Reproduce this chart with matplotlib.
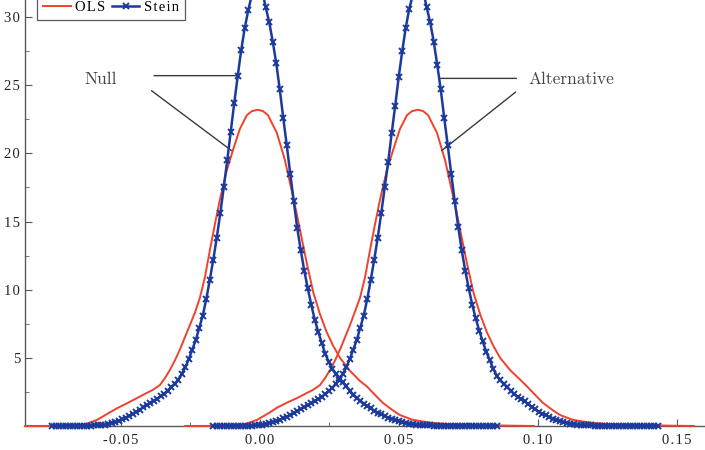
import numpy as np
import matplotlib
matplotlib.use("Agg")
import matplotlib.pyplot as plt
from matplotlib.ticker import MultipleLocator, FuncFormatter

plt.rcParams['font.family'] = ['Liberation Serif', 'DejaVu Serif']
plt.rcParams['axes.unicode_minus'] = False

# OLS density, null case
ols_null_x = [-0.0845, -0.0719, -0.0637, -0.0622, -0.0586, -0.0565, -0.0540, -0.0514, -0.0475, -0.0442,
              -0.0414, -0.0385, -0.0360, -0.0342, -0.0324, -0.0306, -0.0288, -0.0270, -0.0252, -0.0234,
              -0.0216, -0.0198, -0.0180, -0.0162, -0.0144, -0.0120, -0.0096, -0.0072, -0.0047, -0.0029,
              -0.0007, 0.0011, 0.0029, 0.0061, 0.0090, 0.0114, 0.0130, 0.0144, 0.0168, 0.0192,
              0.0216, 0.0240, 0.0263, 0.0288, 0.0324, 0.0360, 0.0385, 0.0406, 0.0442, 0.0478,
              0.0504, 0.0550, 0.0612, 0.0673, 0.0737, 0.0802, 0.0881, 0.0986]
ols_null_y = [0.0, 0.01, 0.08, 0.18, 0.45, 0.7, 1.0, 1.3, 1.7, 2.05,
              2.35, 2.65, 3.0, 3.5, 4.1, 4.8, 5.6, 6.5, 7.4, 8.3,
              9.4, 10.9, 12.9, 14.8, 16.6, 18.7, 20.3, 21.8, 22.8, 23.1,
              23.2, 23.1, 22.8, 21.5, 19.5, 17.3, 15.8, 14.4, 12.0, 9.8,
              8.2, 6.9, 5.9, 5.0, 4.05, 3.3, 2.9, 2.45, 1.7, 1.15,
              0.8, 0.45, 0.25, 0.15, 0.1, 0.07, 0.03, 0.0]

# OLS density, alternative case
ols_alt_x = [-0.0269, -0.0143, -0.0061, -0.0046, -0.0010, 0.0011, 0.0036, 0.0062, 0.0101, 0.0134,
             0.0162, 0.0191, 0.0216, 0.0234, 0.0252, 0.0270, 0.0288, 0.0306, 0.0324, 0.0342,
             0.0360, 0.0378, 0.0396, 0.0414, 0.0432, 0.0456, 0.0480, 0.0504, 0.0529, 0.0547,
             0.0569, 0.0587, 0.0605, 0.0637, 0.0666, 0.0690, 0.0706, 0.0720, 0.0744, 0.0768,
             0.0792, 0.0816, 0.0839, 0.0864, 0.0900, 0.0936, 0.0961, 0.0982, 0.1018, 0.1054,
             0.1080, 0.1126, 0.1188, 0.1249, 0.1313, 0.1378, 0.1457, 0.1562]
ols_alt_y = [0.0, 0.01, 0.08, 0.2, 0.45, 0.7, 1.0, 1.35, 1.75, 2.05,
             2.35, 2.65, 3.0, 3.5, 4.1, 4.8, 5.6, 6.5, 7.4, 8.4,
             9.4, 10.9, 12.9, 14.8, 16.6, 18.7, 20.3, 21.8, 22.8, 23.1,
             23.2, 23.1, 22.8, 21.5, 19.5, 17.3, 15.8, 14.4, 12.0, 9.8,
             8.2, 6.9, 5.9, 5.0, 4.1, 3.4, 2.9, 2.45, 1.7, 1.15,
             0.8, 0.45, 0.25, 0.15, 0.1, 0.07, 0.03, 0.0]

# Stein density, evaluated on an even grid of 128 points
stein_null_range = (-0.0747, 0.0852)
stein_null_y = [0.01, 0.01, 0.01, 0.01, 0.01, 0.01, 0.01, 0.01, 0.01, 0.01,
                0.02, 0.03, 0.04, 0.06, 0.08, 0.11, 0.15, 0.21, 0.29, 0.38,
                0.5, 0.62, 0.76, 0.9, 1.05, 1.2, 1.36, 1.52, 1.68, 1.84,
                2.0, 2.18, 2.38, 2.6, 2.84, 3.1, 3.4, 3.8, 4.3, 4.9,
                5.6, 6.3, 7.2, 8.1, 9.3, 10.7, 12.2, 13.8, 15.6, 17.5,
                19.5, 21.6, 23.7, 25.7, 27.6, 29.2, 30.5, 31.6, 32.3, 32.5,
                31.9, 30.7, 29.6, 28.2, 26.6, 24.7, 22.6, 20.6, 18.5, 16.5,
                14.5, 12.9, 11.4, 10.1, 8.9, 7.8, 6.9, 6.1, 5.3, 4.7,
                4.2, 3.85, 3.55, 3.2, 2.9, 2.6, 2.3, 2.05, 1.85, 1.65,
                1.45, 1.3, 1.12, 0.98, 0.85, 0.73, 0.62, 0.52, 0.43, 0.35,
                0.28, 0.22, 0.17, 0.13, 0.1, 0.08, 0.06, 0.05, 0.04, 0.03,
                0.03, 0.02, 0.02, 0.02, 0.02, 0.01, 0.01, 0.01, 0.01, 0.01,
                0.01, 0.01, 0.01, 0.01, 0.01, 0.01, 0.01, 0.01]

stein_alt_range = (-0.0168, 0.1431)
stein_alt_y = [0.01, 0.01, 0.01, 0.01, 0.01, 0.01, 0.01, 0.01, 0.01, 0.01,
               0.02, 0.03, 0.05, 0.07, 0.1, 0.14, 0.19, 0.26, 0.35, 0.45,
               0.56, 0.68, 0.81, 0.95, 1.1, 1.24, 1.38, 1.52, 1.67, 1.82,
               1.98, 2.15, 2.34, 2.56, 2.8, 3.08, 3.4, 3.8, 4.3, 4.9,
               5.6, 6.3, 7.2, 8.1, 9.3, 10.7, 12.2, 13.8, 15.6, 17.5,
               19.4, 21.5, 23.5, 25.6, 27.5, 29.2, 30.6, 31.6, 32.3, 32.5,
               31.9, 30.7, 29.6, 28.2, 26.5, 24.7, 22.6, 20.6, 18.5, 16.5,
               14.6, 12.9, 11.4, 10.1, 8.9, 7.9, 7.0, 6.2, 5.45, 4.85,
               4.2, 3.7, 3.35, 3.1, 2.85, 2.6, 2.35, 2.15, 1.95, 1.8,
               1.6, 1.4, 1.22, 1.05, 0.9, 0.78, 0.66, 0.55, 0.45, 0.37,
               0.3, 0.23, 0.18, 0.13, 0.1, 0.08, 0.06, 0.05, 0.04, 0.03,
               0.03, 0.02, 0.02, 0.02, 0.02, 0.01, 0.01, 0.01, 0.01, 0.01,
               0.01, 0.01, 0.01, 0.01, 0.01, 0.01, 0.01, 0.01]

stein_null_x = np.linspace(stein_null_range[0], stein_null_range[1], len(stein_null_y))
stein_alt_x = np.linspace(stein_alt_range[0], stein_alt_range[1], len(stein_alt_y))

red = '#f0412c'
blue = '#1c3a9e'
gray = '#5a5a5a'
HS = '\u200a'  # hair space, the original text is set with loose tracking


def spaced(s):
    return HS.join(s)


fig = plt.figure(figsize=(7.05, 4.5), dpi=100)
ax = fig.add_axes([25 / 705, 24 / 450, 680 / 705, 426 / 450])

ax.plot(ols_null_x, ols_null_y, color=red, lw=1.4, label=spaced('OLS'), clip_on=False, zorder=3)
ax.plot(ols_alt_x, ols_alt_y, color=red, lw=1.4, clip_on=False, zorder=3)
ax.plot(stein_null_x, stein_null_y, color=blue, lw=1.8, marker='x', ms=4, mew=1.4,
        label=spaced('Stein'), clip_on=False, zorder=4)
ax.plot(stein_alt_x, stein_alt_y, color=blue, lw=1.8, marker='x', ms=4, mew=1.4,
        clip_on=False, zorder=4)

ax.set_xlim(-0.0845, 0.1601)
ax.set_ylim(0, 31.25)

ax.xaxis.set_major_locator(MultipleLocator(0.05))
ax.xaxis.set_minor_locator(MultipleLocator(0.025))
ax.set_yticks([5, 10, 15, 20, 25, 30])
ax.yaxis.set_minor_locator(MultipleLocator(2.5))
ax.xaxis.set_major_formatter(FuncFormatter(lambda v, p: spaced('%.2f' % v)))
ax.yaxis.set_major_formatter(FuncFormatter(lambda v, p: spaced('%d' % v)))

for s in ['top', 'right']:
    ax.spines[s].set_visible(False)
for s in ['left', 'bottom']:
    ax.spines[s].set_color(gray)
    ax.spines[s].set_linewidth(1.0)
ax.tick_params(which='both', direction='in', colors=gray, labelcolor='#222222', labelsize=10.5)
ax.tick_params(which='major', length=5)
ax.tick_params(which='minor', length=3)
ax.tick_params(axis='x', pad=6)

# annotations
ann = dict(arrowstyle='-', color='#3a3a3a', lw=1.0, shrinkA=0, shrinkB=0)
ax.text(-0.0572, 25.4, 'Null', fontsize=12.5, family='cmr10', color='#444444', ha='center', va='center')
ax.annotate('', xy=(-0.0078, 25.7), xytext=(-0.0381, 25.7), arrowprops=ann)
ax.annotate('', xy=(-0.0102, 20.2), xytext=(-0.0390, 24.6), arrowprops=ann)
ax.text(0.1122, 25.4, 'Alternative', fontsize=12.5, family='cmr10', color='#444444', ha='center', va='center')
ax.annotate('', xy=(0.0650, 25.5), xytext=(0.0923, 25.5), arrowprops=ann)
ax.annotate('', xy=(0.0654, 20.2), xytext=(0.0920, 24.5), arrowprops=ann)

leg = ax.legend(loc='lower left', bbox_to_anchor=(12 / 680, (426 - 20) / 426), ncol=2,
                fontsize=10.5, frameon=True, fancybox=False, framealpha=1,
                edgecolor=gray, handlelength=1.9, columnspacing=0.45, handletextpad=0.3,
                borderpad=0.4, borderaxespad=0)
leg.get_frame().set_linewidth(0.9)

fig.savefig('out.png', dpi=100)
